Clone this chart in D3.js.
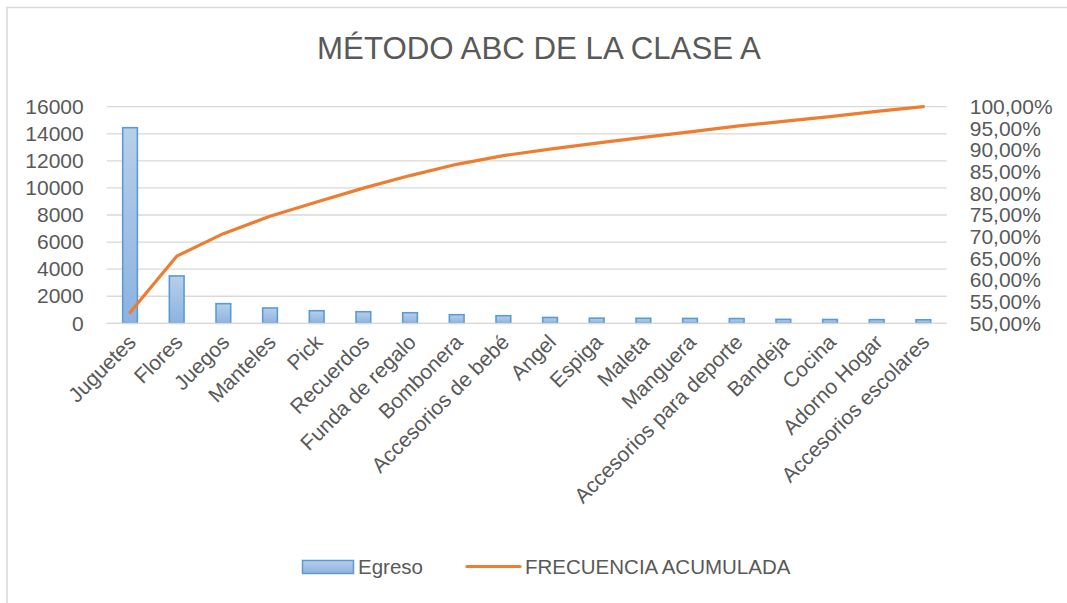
<!DOCTYPE html>
<html><head><meta charset="utf-8">
<script src="https://cdn.jsdelivr.net/npm/d3@7"></script>
<style>
body{margin:0;background:#fff;}
svg{display:block;font-family:"Liberation Sans",Arial,sans-serif;}
</style></head>
<body>
<svg id="c" width="1067" height="603"></svg>
<script>
const title = "MÉTODO ABC DE LA CLASE A";
const categories = ["Juguetes","Flores","Juegos","Manteles","Pick","Recuerdos","Funda de regalo","Bombonera","Accesorios de bebé","Angel","Espiga","Maleta","Manguera","Accesorios para deporte","Bandeja","Cocina","Adorno Hogar","Accesorios escolares"];
const egreso = [14450,3500,1450,1130,930,855,780,635,560,430,380,370,360,350,290,280,270,260];
const frecuenciaAcumulada = [0.525,0.655,0.707,0.747,0.780,0.812,0.841,0.867,0.887,0.902,0.916,0.929,0.942,0.955,0.966,0.977,0.989,1.0];
const leftTicks = [0,2000,4000,6000,8000,10000,12000,14000,16000];
const rightTicks = [0.50,0.55,0.60,0.65,0.70,0.75,0.80,0.85,0.90,0.95,1.00];
const seriesNames = ["Egreso","FRECUENCIA ACUMULADA"];

const svg = d3.select("#c");
const txt = "#595959";
const grid = "#d9d9d9";

// chart border
svg.append("rect").attr("x",7).attr("y",7.5).attr("width",1100).attr("height",640)
  .attr("fill","none").attr("stroke","#d9d9d9").attr("stroke-width",1.5);

const L = 106.7, R = 946.7, T = 106.7, B = 323.3;
const x = d3.scaleBand().domain(categories).range([L,R]).paddingInner(0.685).paddingOuter(0.3425);
const y = d3.scaleLinear().domain([0,16000]).range([B,T]);
const y2 = d3.scaleLinear().domain([0.5,1.0]).range([B,T]);

// gridlines
svg.append("g").selectAll("line").data(leftTicks).join("line")
  .attr("x1",L).attr("x2",R).attr("y1",d=>y(d)).attr("y2",d=>y(d))
  .attr("stroke",grid).attr("stroke-width",1.3);

// left axis
const la = svg.append("g").attr("transform",`translate(${L},0)`)
  .call(d3.axisLeft(y).tickValues(leftTicks).tickSize(0).tickPadding(23).tickFormat(d3.format("d")));
la.select(".domain").remove();
la.selectAll("text").attr("fill",txt).style("font-size","21px").style("font-family","inherit");

// right axis
const ra = svg.append("g").attr("transform",`translate(${R},0)`)
  .call(d3.axisRight(y2).tickValues(rightTicks).tickSize(0).tickPadding(23)
    .tickFormat(d=>d3.format(".2f")(d*100).replace(".",",")+"%"));
ra.select(".domain").remove();
ra.selectAll("text").attr("fill",txt).style("font-size","21px").style("font-family","inherit");

// gradient
const defs = svg.append("defs");
const g = defs.append("linearGradient").attr("id","bg").attr("x1",0).attr("y1",0).attr("x2",0).attr("y2",1);
g.append("stop").attr("offset","0%").attr("stop-color","#b7cfea");
g.append("stop").attr("offset","100%").attr("stop-color","#8db2e0");
const lg = defs.append("linearGradient").attr("id","lgb").attr("x1",0).attr("y1",0).attr("x2",0).attr("y2",1);
lg.append("stop").attr("offset","0%").attr("stop-color","#b7cfea");
lg.append("stop").attr("offset","100%").attr("stop-color","#8db2e0");

// bars
svg.append("g").selectAll("rect").data(categories).join("rect")
  .attr("x",d=>x(d)).attr("width",x.bandwidth())
  .attr("y",(d,i)=>y(egreso[i])).attr("height",(d,i)=>B-y(egreso[i]))
  .attr("fill","url(#bg)").attr("stroke","#5b9bd5").attr("stroke-width",1.6);

// x axis line
svg.append("line").attr("x1",L).attr("x2",R).attr("y1",B).attr("y2",B).attr("stroke",grid).attr("stroke-width",1.3);

// cumulative line
const line = d3.line().x((d,i)=>x(categories[i])+x.bandwidth()/2).y(d=>y2(d));
svg.append("path").datum(frecuenciaAcumulada).attr("d",line)
  .attr("fill","none").attr("stroke","#ed7d31").attr("stroke-width",3.2).attr("stroke-linejoin","round").attr("stroke-linecap","round");

// x labels
svg.append("g").selectAll("text").data(categories).join("text")
  .attr("transform",d=>`translate(${x(d)+x.bandwidth()/2+2},${B+15}) rotate(-45)`)
  .attr("text-anchor","end").attr("dy","0.35em")
  .attr("fill",txt).style("font-size","21px").text(d=>d);

// title
const tt = svg.append("text").attr("x",539).attr("y",58.5).attr("text-anchor","middle")
  .attr("fill",txt).style("font-size","26px").text(title);
const tw = tt.node().getComputedTextLength();
tt.style("font-size",(26*444/tw)+"px");

// legend
const leg = svg.append("g");
leg.append("rect").attr("x",302.5).attr("y",560.5).attr("width",51).attr("height",13)
  .attr("fill","url(#lgb)").attr("stroke","#5b9bd5").attr("stroke-width",1.5);
leg.append("text").attr("x",358).attr("y",567).attr("dy","0.35em").attr("fill",txt).style("font-size","20.5px").text(seriesNames[0]);
leg.append("line").attr("x1",467).attr("x2",520).attr("y1",566.5).attr("y2",566.5)
  .attr("stroke","#ed7d31").attr("stroke-width",3.2).attr("stroke-linecap","round");
leg.append("text").attr("x",525).attr("y",567).attr("dy","0.35em").attr("fill",txt).style("font-size","20.5px").text(seriesNames[1]);
</script>
</body></html>
